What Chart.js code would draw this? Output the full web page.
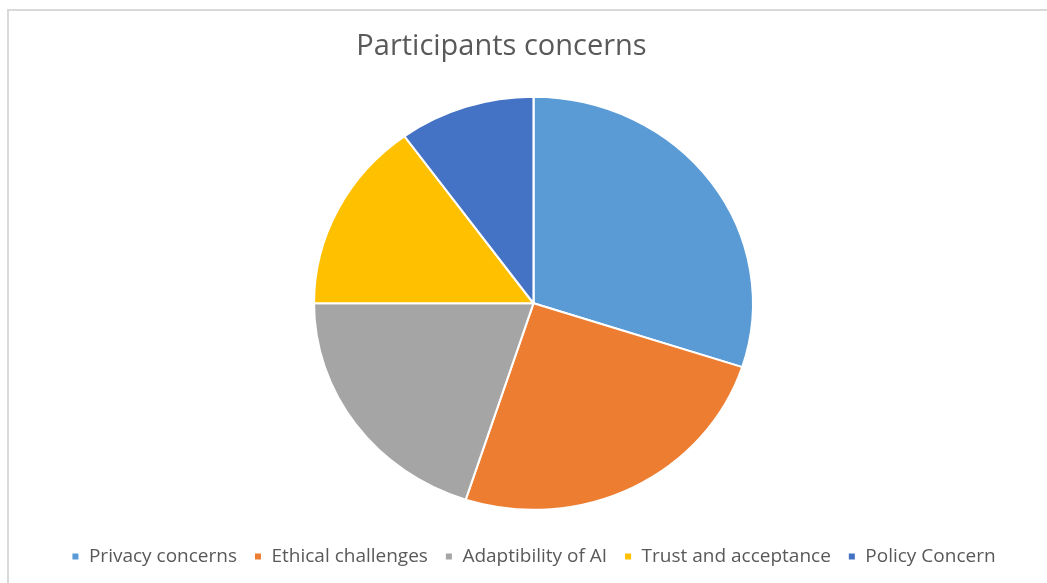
<!DOCTYPE html>
<html>
<head>
<meta charset="utf-8">
<script src="https://cdn.jsdelivr.net/npm/chart.js@4"></script>
<style>
  html, body { margin: 0; padding: 0; background: #fff; }
  #wrap { width: 1047px; height: 583px; position: relative; }
</style>
</head>
<body>
<div id="wrap"><canvas id="chart"></canvas></div>
<script>
const categories = ['Privacy concerns', 'Ethical challenges', 'Adaptibility of AI', 'Trust and acceptance', 'Policy Concern'];
const shares = [30, 25, 20, 15, 10];
const colors = ['#5B9BD5', '#ED7D31', '#A5A5A5', '#FFC000', '#4472C4'];

const textColor = '#595959';
const stretchX = 1.063; // reference pie is a little wider than tall

// light grey frame of the chart object
const framePlugin = {
  id: 'frame',
  beforeDraw(chart) {
    const ctx = chart.ctx;
    ctx.save();
    ctx.strokeStyle = '#d9d9d9';
    ctx.lineWidth = 2;
    ctx.beginPath();
    ctx.moveTo(8, 583);
    ctx.lineTo(8, 10);
    ctx.lineTo(1047, 10);
    ctx.stroke();
    ctx.restore();
  }
};

const stretchPlugin = {
  id: 'stretch',
  afterLayout(chart) {
    // title sits a bit left of the pie in the reference
    const t = chart.titleBlock;
    if (t) { t.left -= 32; t.right -= 32; }
  },
  beforeDatasetsDraw(chart) {
    const a = chart.chartArea;
    const cx = (a.left + a.right) / 2;
    const ctx = chart.ctx;
    ctx.save();
    ctx.translate(cx, 0);
    ctx.scale(stretchX, 1);
    ctx.translate(-cx, 0);
  },
  afterDatasetsDraw(chart) {
    chart.ctx.restore();
  }
};

new Chart(document.getElementById('chart'), {
  type: 'pie',
  data: {
    labels: categories,
    datasets: [{
      data: shares,
      backgroundColor: colors,
      borderColor: '#ffffff',
      borderWidth: 2,
      hoverOffset: 0
    }]
  },
  options: {
    responsive: true,
    maintainAspectRatio: false,
    animation: false,
    layout: { padding: { top: 10, left: 20, right: 0, bottom: 7 } },
    plugins: {
      title: {
        display: true,
        text: 'Participants concerns',
        color: textColor,
        font: { family: 'Open Sans', size: 29, weight: 'normal' },
        padding: { top: 19, bottom: 32 }
      },
      legend: {
        position: 'bottom',
        title: { display: true, text: '', font: { size: 1 }, padding: { top: 9, bottom: 9 } },
        labels: {
          color: textColor,
          font: { family: 'Open Sans', size: 19 },
          boxWidth: 8,
          boxHeight: 8,
          padding: 17
        }
      },
      tooltip: { enabled: false }
    }
  },
  plugins: [framePlugin, stretchPlugin]
});
</script>
</body>
</html>
